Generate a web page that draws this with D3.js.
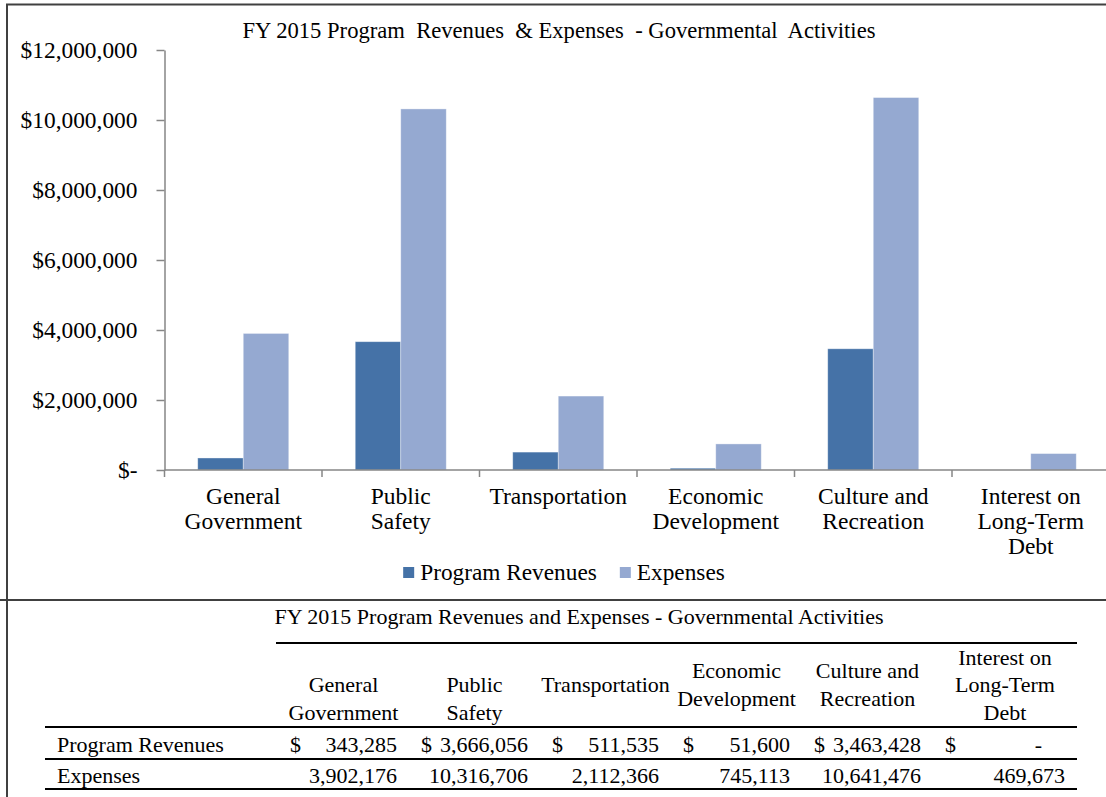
<!DOCTYPE html>
<html>
<head>
<meta charset="utf-8">
<script src="https://cdn.jsdelivr.net/npm/d3@7"></script>
<style>
  body { margin: 0; background: #fff; }
  text { white-space: pre; }
</style>
</head>
<body>
<script>
// chart data
var categories = ["General Government", "Public Safety", "Transportation", "Economic Development", "Culture and Recreation", "Interest on Long-Term Debt"];
var categoryLines = [["General", "Government"], ["Public", "Safety"], ["Transportation"], ["Economic", "Development"], ["Culture and", "Recreation"], ["Interest on", "Long-Term", "Debt"]];
var series = ["Program Revenues", "Expenses"];
var programRevenues = [343285, 3666056, 511535, 51600, 3463428, 0];
var expenses = [3902176, 10316706, 2112366, 745113, 10641476, 469673];
var yTicks = [0, 2000000, 4000000, 6000000, 8000000, 10000000, 12000000];

var chartTitle = "FY 2015 Program  Revenues  & Expenses  - Governmental  Activities";
var tableTitle = "FY 2015 Program Revenues and Expenses - Governmental Activities";

// layout
var W = 1106, H = 797;
var plot = {left: 164.5, right: 1109.5, top: 50, bottom: 470};
var colEdges = [278, 409, 540, 671, 802, 933, 1077];
var headerAlign = ["bottom", "bottom", "middle", "middle", "middle", "middle"];
var colors = {"Program Revenues": "#4572A7", "Expenses": "#95A9D1"};
var font = "'Liberation Serif', 'Times New Roman', serif";

var svg = d3.select("body").append("svg")
    .attr("width", W).attr("height", H)
    .style("font-family", font);

// frame of the chart object and sheet borders
svg.append("rect")
    .attr("x", 7).attr("y", 4.5).attr("width", 1120).attr("height", 595.5)
    .attr("fill", "none").attr("stroke", "#404040").attr("stroke-width", 2);
svg.append("line").attr("x1", 0).attr("x2", W).attr("y1", 600).attr("y2", 600)
    .attr("stroke", "#404040").attr("stroke-width", 2);
svg.append("line").attr("x1", 7).attr("x2", 7).attr("y1", 600).attr("y2", H)
    .attr("stroke", "#404040").attr("stroke-width", 2);

// scales
var x0 = d3.scaleBand().domain(categories).range([plot.left, plot.right]);
var x1 = d3.scaleBand().domain(series).range([0, x0.bandwidth()]).paddingOuter(0.73);
var y = d3.scaleLinear().domain([0, 12000000]).range([plot.bottom, plot.top]);

// title
svg.append("text")
    .attr("x", 559).attr("y", 38)
    .attr("text-anchor", "middle")
    .style("font-size", "22.6px")
    .text(chartTitle);

// rows of bar values
var rows = categories.map(function(c, i) {
    return {category: c, values: [
        {key: series[0], value: programRevenues[i]},
        {key: series[1], value: expenses[i]}
    ]};
});

svg.append("g")
    .selectAll("g")
    .data(rows)
    .enter().append("g")
    .attr("transform", function(d) { return "translate(" + x0(d.category) + ",0)"; })
    .selectAll("rect")
    .data(function(d) { return d.values; })
    .enter().append("rect")
    .attr("x", function(d) { return x1(d.key); })
    .attr("y", function(d) { return y(d.value); })
    .attr("width", x1.bandwidth())
    .attr("height", function(d) { return y(0) - y(d.value); })
    .attr("fill", function(d) { return colors[d.key]; })
    .attr("stroke", "rgba(255,255,255,0.45)")
    .attr("stroke-width", 0.8);

// y axis
var yAxis = svg.append("g")
    .attr("transform", "translate(" + plot.left + ",0)")
    .call(d3.axisLeft(y).tickValues(yTicks).tickSize(8).tickSizeOuter(0).tickPadding(19)
        .tickFormat(function(d) { return d === 0 ? "$-" : "$" + d3.format(",")(d); }));
yAxis.select(".domain").attr("stroke", "#868686").attr("stroke-width", 1.5);
yAxis.selectAll(".tick line").attr("stroke", "#868686").attr("stroke-width", 1.5);
yAxis.selectAll(".tick text")
    .attr("fill", "#000")
    .style("font-family", font)
    .style("font-size", "23.4px");

// x axis line and category boundary ticks
var xAxis = svg.append("g");
xAxis.append("line")
    .attr("x1", plot.left).attr("x2", W)
    .attr("y1", y(0)).attr("y2", y(0))
    .attr("stroke", "#868686").attr("stroke-width", 1.5);
xAxis.selectAll(".xtick")
    .data(categories)
    .enter().append("line")
    .attr("class", "xtick")
    .attr("x1", function(d) { return x0(d); })
    .attr("x2", function(d) { return x0(d); })
    .attr("y1", y(0)).attr("y2", y(0) + 7)
    .attr("stroke", "#868686").attr("stroke-width", 1.5);

// category labels
var catText = xAxis.selectAll(".cat")
    .data(categories)
    .enter().append("text")
    .attr("class", "cat")
    .attr("text-anchor", "middle")
    .style("font-size", "23.5px");
catText.selectAll("tspan")
    .data(function(d, i) { return categoryLines[i].map(function(l) { return {x: x0(d) + x0.bandwidth() / 2, line: l}; }); })
    .enter().append("tspan")
    .attr("x", function(d) { return d.x; })
    .attr("y", function(d, i) { return 504 + i * 25; })
    .text(function(d) { return d.line; });

// legend
var legend = svg.append("g");
var lx = 0;
series.forEach(function(s, i) {
    var g = legend.append("g").attr("transform", "translate(" + lx + ",0)");
    g.append("rect").attr("x", 0).attr("y", 567).attr("width", 11).attr("height", 11).attr("fill", colors[s]);
    var t = g.append("text").attr("x", 17).attr("y", 580).style("font-size", "23.3px").text(s);
    lx += 17 + t.node().getComputedTextLength() + 23;
});
var legendWidth = lx - 23;
legend.attr("transform", "translate(" + (564 - legendWidth / 2) + ",0)");

// ---- table under the chart ----
var table = svg.append("g").style("font-size", "22px");

table.append("text")
    .attr("x", 579).attr("y", 624)
    .attr("text-anchor", "middle")
    .text(tableTitle);

table.append("line")
    .attr("x1", colEdges[0] - 2).attr("x2", colEdges[colEdges.length - 1])
    .attr("y1", 643).attr("y2", 643)
    .attr("stroke", "#000").attr("stroke-width", 2);

[727, 759, 789].forEach(function(ly) {
    table.append("line")
        .attr("x1", 45).attr("x2", colEdges[colEdges.length - 1])
        .attr("y1", ly).attr("y2", ly)
        .attr("stroke", "#000").attr("stroke-width", 2);
});

// column headers
categories.forEach(function(c, i) {
    var cx = (colEdges[i] + colEdges[i + 1]) / 2;
    var lines = categoryLines[i];
    var n = lines.length;
    var t = table.append("text").attr("text-anchor", "middle");
    lines.forEach(function(l, j) {
        var by = headerAlign[i] === "bottom" ? 720 - (n - 1 - j) * 28 : 692 + (j - (n - 1) / 2) * 27.5;
        t.append("tspan").attr("x", cx).attr("y", by).text(l);
    });
});

// row labels
table.append("text").attr("x", 57).attr("y", 752).text(series[0]);
table.append("text").attr("x", 57).attr("y", 783).text(series[1]);

var fmt = d3.format(",");
categories.forEach(function(c, i) {
    var left = colEdges[i], right = colEdges[i + 1];
    // program revenues, accounting format with $ at left
    table.append("text").attr("x", left + 12).attr("y", 752).text("$");
    if (programRevenues[i] === 0) {
        table.append("text").attr("x", right - 35).attr("y", 752).attr("text-anchor", "end").text("-");
    } else {
        table.append("text").attr("x", right - 12).attr("y", 752).attr("text-anchor", "end").text(fmt(programRevenues[i]));
    }
    table.append("text").attr("x", right - 12).attr("y", 783).attr("text-anchor", "end").text(fmt(expenses[i]));
});
</script>
</body>
</html>
